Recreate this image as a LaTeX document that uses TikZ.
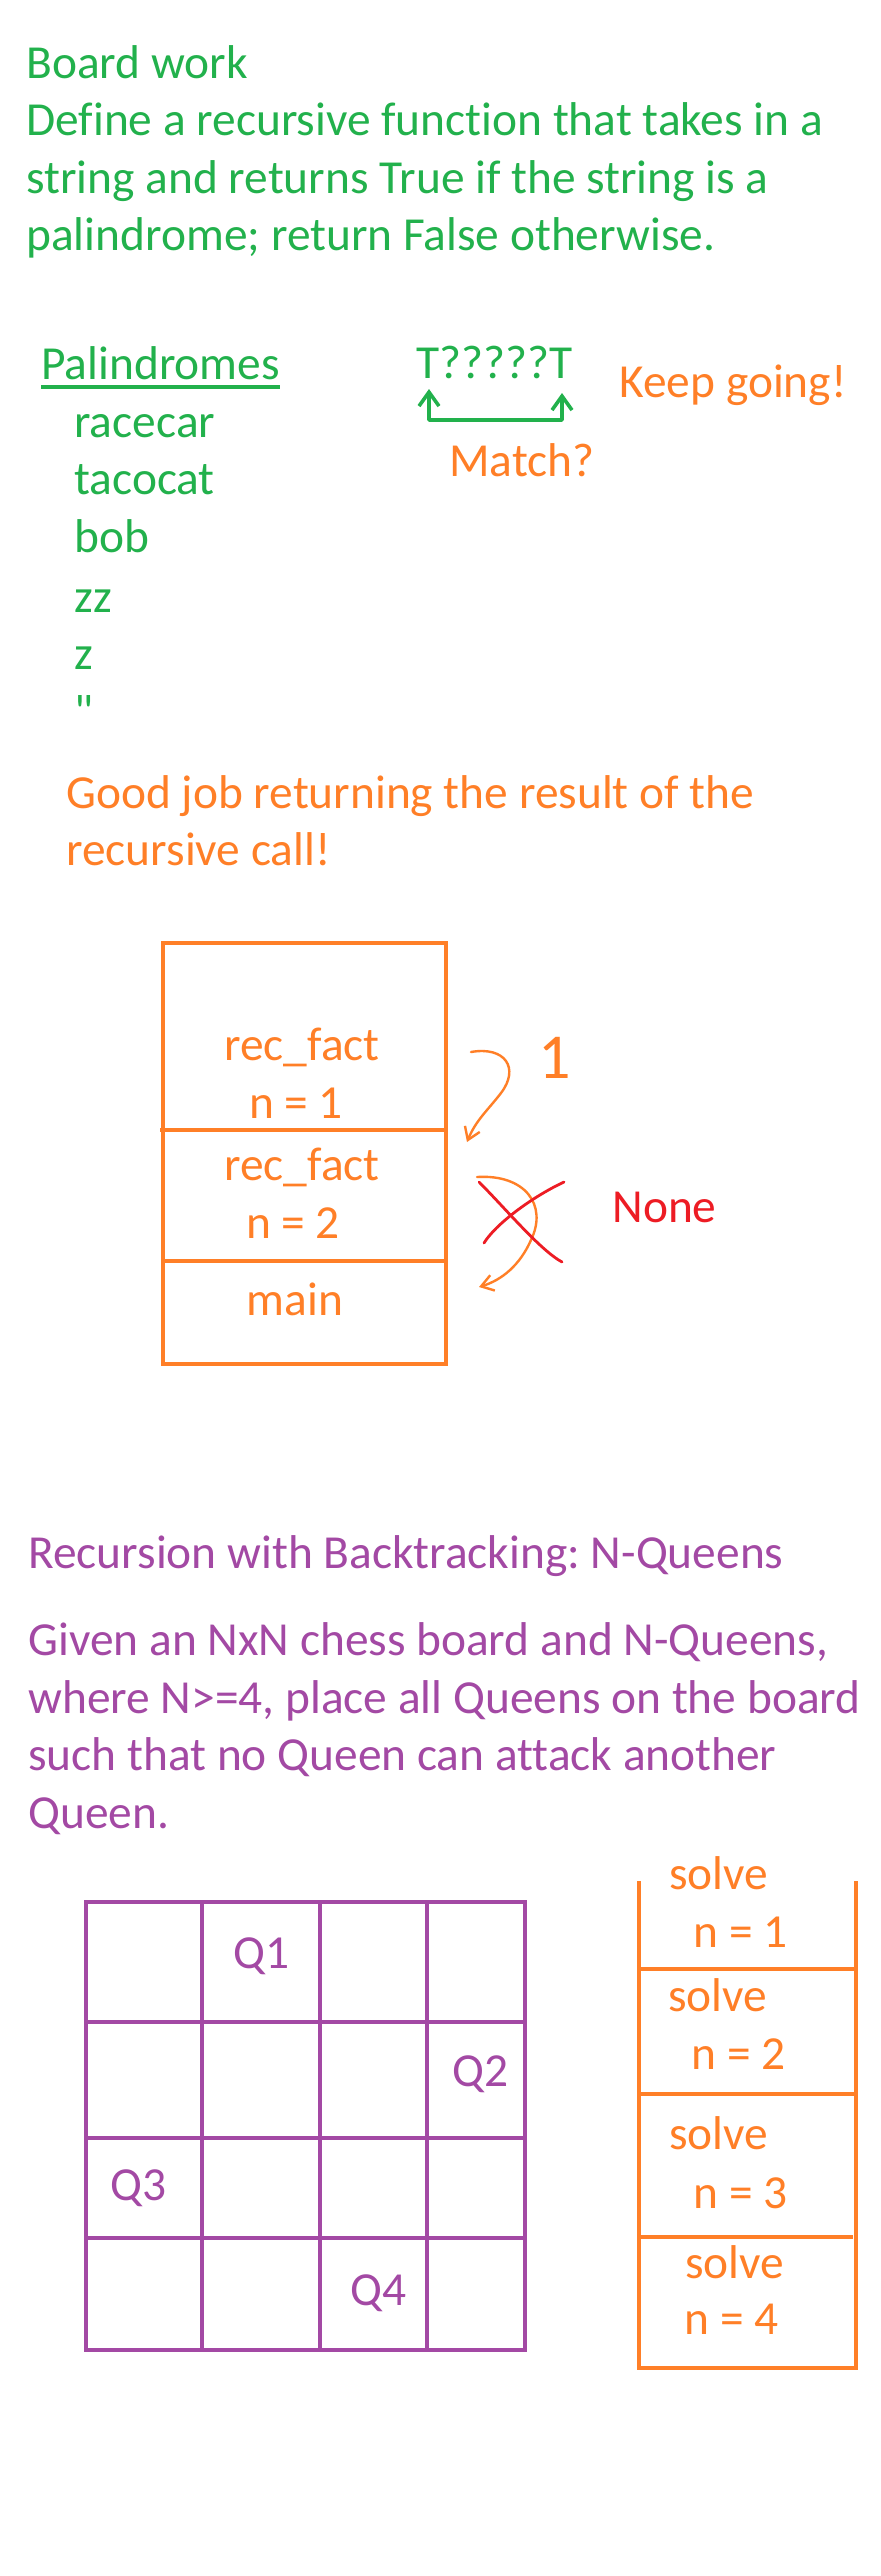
\documentclass[tikz,border=0pt]{standalone}
\usepackage{fontspec}
\setmainfont{Carlito}[Ligatures={NoCommon}]
\newfontfamily\rawfont{Carlito}[Ligatures=TeXOff]
\usepackage{xcolor}
\definecolor{boardgreen}{RGB}{34,177,76}
\definecolor{boardorange}{RGB}{255,127,39}
\definecolor{boardred}{RGB}{237,28,36}
\definecolor{boardpurple}{RGB}{163,73,164}
\usetikzlibrary{arrows.meta, positioning, calc}
\newcommand{\notefont}{\fontsize{23.7}{28}\selectfont}
\frenchspacing

\begin{document}
\begin{tikzpicture}[x=0.5pt, y=-0.5pt,
    note/.style={font=\notefont, inner sep=0pt, anchor=base west},
    stackline/.style={draw=boardorange, line width=2.3pt},
    boardline/.style={draw=boardpurple, line width=2.3pt},
    hand/.style={line width=1.2pt, line cap=round, line join=round}]
    \fill[white] (0,0) rectangle (880,2576);
    \useasboundingbox (0,0) rectangle (880,2576);

    % Board work
    \node[note, text=boardgreen] (title) at (26,78) {Board work};
    \node[note, text=boardgreen] (task1) at (26,135) {Define a recursive function that takes in a};
    \node[note, text=boardgreen] (task2) at (26,193) {string and returns True if the string is a};
    \node[note, text=boardgreen] (task3) at (26,250) {palindrome; return False otherwise.};

    % Palindromes
    \node[note, text=boardgreen] (pal) at (41,379) {Palindromes};
    \draw[boardgreen, line width=2pt] ([yshift=-4pt]pal.base west) -- ([yshift=-4pt]pal.base east);
    \node[note, text=boardgreen] (racecar) at (74,437) {racecar};
    \node[note, text=boardgreen] (tacocat) at (74,494) {tacocat};
    \node[note, text=boardgreen] (bob) at (74,552) {bob};
    \node[note, text=boardgreen] (zz) at (74,612) {zz};
    \node[note, text=boardgreen] (z) at (74,669) {z};
    \node[note, text=boardgreen] (empty) at (74,727) {\rawfont"};

    % First and last letter
    \node[note, text=boardgreen] (tword) at (416,378) {T?????T};
    \coordinate (firstT) at (429,389);
    \coordinate (lastT) at (562,393);
    \draw[hand, boardgreen, line width=1.8pt, {Straight Barb[length=7pt,width=10pt]}-{Straight Barb[length=7pt,width=10pt]}]
        (firstT) -- ++(0,31) -| (lastT);
    \node[note, text=boardorange] (keep) at (619,397) {Keep going!};
    \node[note, text=boardorange] (match) at (449,476) {Match?};

    % Return value
    \node[note, text=boardorange] (good1) at (66,808) {Good job returning the result of the};
    \node[note, text=boardorange] (good2) at (66,865) {recursive call!};

    % Call stack
    \draw[stackline] (163,943) rectangle (446,1364);
    \draw[stackline] (160,1130) -- (446,1130);
    \draw[stackline] (163,1261) -- (446,1261);
    \node[note, anchor=base, text=boardorange] (fact1) at (302,1060) {rec\_fact};
    \node[note, anchor=base, text=boardorange] (n1) at (296,1118) {n = 1};
    \node[note, anchor=base, text=boardorange] (fact2) at (302,1180) {rec\_fact};
    \node[note, anchor=base, text=boardorange] (n2) at (293,1238) {n = 2};
    \node[note, anchor=base, text=boardorange] (main) at (295,1315) {main};

    % Returned values
    \coordinate (ret1from) at (471,1052);
    \coordinate (ret1to) at (467,1142);
    \draw[hand, boardorange, -{Straight Barb[length=6pt,width=8pt]}]
        (ret1from) .. controls (505,1046) and (520,1068) .. (501,1093)
        .. controls (488,1110) and (476,1120) .. (ret1to);
    \node[note, font=\fontsize{32}{32}\selectfont, text=boardorange] (one) at (538,1078) {1};
    \coordinate (ret2from) at (477,1177);
    \coordinate (ret2to) at (479,1287);
    \draw[hand, boardorange, -{Straight Barb[length=6pt,width=8pt]}]
        (ret2from) .. controls (525,1174) and (548,1205) .. (531,1240)
        .. controls (520,1265) and (502,1280) .. (ret2to);
    \coordinate (crossA1) at (479,1182);
    \coordinate (crossA2) at (562,1262);
    \coordinate (crossB1) at (564,1182);
    \coordinate (crossB2) at (484,1243);
    \draw[hand, boardred, line width=1.4pt] (crossA1) .. controls (505,1208) and (540,1250) .. (crossA2);
    \draw[hand, boardred, line width=1.4pt] (crossB1) .. controls (530,1198) and (495,1225) .. (crossB2);
    \node[note, text=boardred] (none) at (612,1222) {None};

    % N-Queens
    \node[note, text=boardpurple] (nqueens) at (28,1568) {Recursion with Backtracking: N-Queens};
    \node[note, text=boardpurple] (given1) at (28,1655) {Given an NxN chess board and N-Queens,};
    \node[note, text=boardpurple] (given2) at (28,1713) {where N>=4, place all Queens on the board};
    \node[note, text=boardpurple] (given3) at (28,1770) {such that no Queen can attack another};
    \node[note, text=boardpurple] (given4) at (28,1828) {Queen.};

    % Chess board
    \draw[boardline] (86,1902) rectangle (525,2350);
    \foreach \bx in {202,320,427}
        \draw[boardline] (\bx,1902) -- (\bx,2350);
    \foreach \by in {2022,2138,2238}
        \draw[boardline] (86,\by) -- (525,\by);
    \node[note, text=boardpurple] (q1) at (233,1968) {Q1};
    \node[note, text=boardpurple] (q2) at (452,2086) {Q2};
    \node[note, text=boardpurple] (q3) at (110,2200) {Q3};
    \node[note, text=boardpurple] (q4) at (350,2305) {Q4};

    % Solve stack
    \draw[stackline] (639,1881) |- (856,2368) -- (856,1881);
    \draw[stackline] (639,1969) -- (856,1969);
    \draw[stackline] (639,2094) -- (856,2094);
    \draw[stackline] (639,2237) -- (853,2237);
    \node[note, text=boardorange] (solve1) at (669,1889) {solve};
    \node[note, text=boardorange] (sn1) at (693,1947) {n = 1};
    \node[note, text=boardorange] (solve2) at (668,2011) {solve};
    \node[note, text=boardorange] (sn2) at (691,2069) {n = 2};
    \node[note, text=boardorange] (solve3) at (669,2149) {solve};
    \node[note, text=boardorange] (sn3) at (693,2208) {n = 3};
    \node[note, text=boardorange] (solve4) at (685,2278) {solve};
    \node[note, text=boardorange] (sn4) at (684,2334) {n = 4};
\end{tikzpicture}
\end{document}
